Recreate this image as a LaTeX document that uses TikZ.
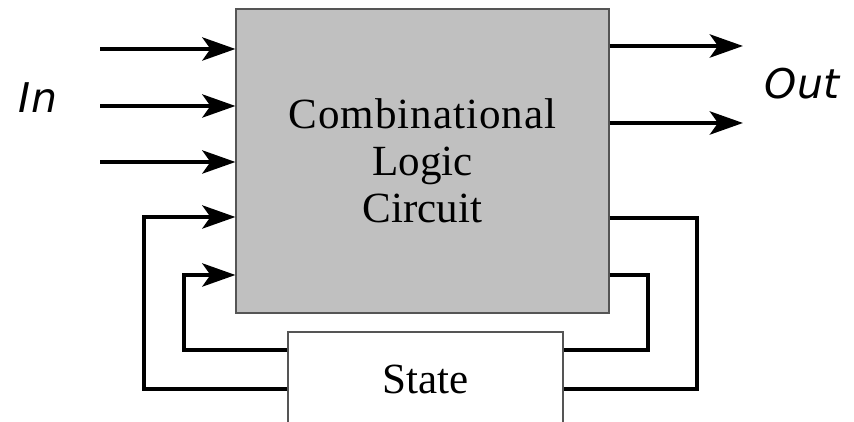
\documentclass[tikz,border=0pt]{standalone}
\usepackage{fontspec}
\setmainfont{Liberation Serif}
\newfontfamily\labelfont{DejaVu Sans}
\newfontfamily\spacedfont[LetterSpace=2.2]{Liberation Serif}
\usepackage{xcolor}
\definecolor{cBlock}{HTML}{C0C0C0}
\definecolor{cEdge}{HTML}{555555}
\usetikzlibrary{arrows.meta}
\tikzset{
  block/.style={draw=cEdge,line width=0.6pt,align=center,inner sep=0pt,
    font=\fontsize{24.5}{26.7}\selectfont},
  wire/.style={line width=2.8pt,draw=black},
  signal/.style={wire,-{Stealth[length=6.6mm,width=4.6mm,inset=1.6mm]}},
  io-label/.style={font=\labelfont\itshape\fontsize{23.3}{26}\selectfont,anchor=base},
}
\begin{document}
\begin{tikzpicture}
  \clip (0,0) rectangle (17.08,8.44);
  % the two blocks
  \node[block,fill=cBlock,minimum width=7.46cm,minimum height=6.08cm]
    (clc) at (8.45,5.22) {\spacedfont Combinational\\Logic\\Circuit};
  \node[block,fill=white,minimum width=5.5cm,minimum height=1.88cm]
    (state) at (8.51,0.86) {State};
  % inputs and outputs
  \foreach \y in {7.46,6.32,5.20}
    \draw[signal] (2.0,\y) -- (clc.west |- 0,\y);
  \foreach \y in {7.52,5.98}
    \draw[signal] (clc.east |- 0,\y) -- (14.86,\y);
  \node[io-label] (in) at (0.76,6.18) {In};
  \node[io-label] (out) at (16.04,6.46) {Out};
  % feedback through the state register
  \draw[wire] (clc.east |- 0,4.08) -| (13.94,0.66) -- (state.east |- 0,0.66);
  \draw[wire] (clc.east |- 0,2.94) -| (12.96,1.44) -- (state.east |- 0,1.44);
  \draw[signal] (state.west |- 0,0.66) -| (2.88,4.10) -- (clc.west |- 0,4.10);
  \draw[signal] (state.west |- 0,1.44) -| (3.68,2.94) -- (clc.west |- 0,2.94);
\end{tikzpicture}
\end{document}
